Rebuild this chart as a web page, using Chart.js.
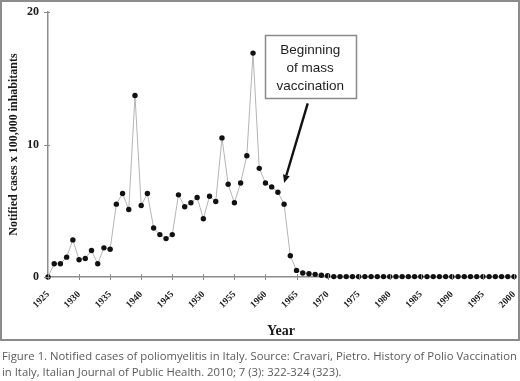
<!DOCTYPE html>
<html>
<head>
<meta charset="utf-8">
<script src="https://cdn.jsdelivr.net/npm/chart.js@4"></script>
<style>
  html, body { margin: 0; padding: 0; background: #fff; }
  body { width: 520px; height: 381px; position: relative; overflow: hidden; }
  #wrap { position: absolute; left: 0; top: 0; width: 520px; height: 341px; }
  #frame { position: absolute; left: 0; top: 0; width: 516px; height: 337px; border: 2px solid #8c8c8c; pointer-events: none; }
  #caption { position: absolute; left: 2px; top: 348px; width: 520px; font-family: "Open Sans", sans-serif; font-size: 11.3px; line-height: 15.5px; color: #5a5a5a; white-space: nowrap; }
</style>
</head>
<body>
<div id="wrap"><canvas id="c" width="520" height="341"></canvas></div>
<div id="frame"></div>
<div id="caption">Figure 1. Notified cases of poliomyelitis in Italy. Source: Cravari, Pietro. History of Polio Vaccination<br>in Italy, Italian Journal of Public Health. 2010; 7 (3): 322-324 (323).</div>
<script>
const years = [];
for (let y = 1925; y <= 2000; y++) years.push(y);
const cases = [
  0.0, 1.0, 1.0, 1.5, 2.8, 1.3, 1.4, 2.0, 1.0, 2.2,   // 1925-1934
  2.1, 5.5, 6.3, 5.1, 13.7, 5.4, 6.3, 3.7, 3.2, 2.9,  // 1935-1944
  3.2, 6.2, 5.3, 5.6, 6.0, 4.4, 6.1, 5.7, 10.5, 7.0,  // 1945-1954
  5.6, 7.1, 9.15, 16.9, 8.2, 7.1, 6.8, 6.4, 5.5, 1.6, // 1955-1964
  0.5, 0.3, 0.25, 0.2, 0.13, 0.1, 0.03, 0.03, 0.03, 0.03, // 1965-1974
  0.03, 0.03, 0.03, 0.03, 0.03, 0.03, 0.03, 0.03, 0.03, 0.03, // 1975-1984
  0.03, 0.03, 0.03, 0.03, 0.03, 0.03, 0.03, 0.03, 0.03, 0.03, // 1985-1994
  0.03, 0.03, 0.03, 0.03, 0.03, 0.03                    // 1995-2000
];
const xTicks = [1925,1930,1935,1940,1945,1950,1955,1960,1965,1970,1975,1980,1985,1990,1995,2000];
const yTicks = [0, 10, 20];
const yTitle = "Notified cases x 100,000 inhabitants";
const xTitle = "Year";
const noteLines = ["Beginning", "of mass", "vaccination"];

const serifBold = { family: "'Liberation Serif', 'Times New Roman', serif", weight: 'bold' };

const crossTicks = {
  id: 'crossTicks',
  afterDraw(chart) {
    const ctx = chart.ctx, xs = chart.scales.x, ys = chart.scales.y;
    const a = chart.chartArea;
    ctx.save();
    ctx.strokeStyle = '#8c8c8c';
    ctx.lineWidth = 1;
    xTicks.forEach(v => {
      const px = Math.round(xs.getPixelForValue(v)) + 0.5;
      ctx.beginPath(); ctx.moveTo(px, a.bottom - 3); ctx.lineTo(px, a.bottom + 3); ctx.stroke();
    });
    yTicks.forEach(v => {
      const py = Math.round(ys.getPixelForValue(v)) + 0.5;
      ctx.beginPath(); ctx.moveTo(a.left - 4, py); ctx.lineTo(a.left + 2, py); ctx.stroke();
    });
    ctx.restore();
  }
};

const note = {
  id: 'note',
  afterDatasetsDraw(chart) {
    const ctx = chart.ctx, xs = chart.scales.x, ys = chart.scales.y;
    const x0 = xs.getPixelForValue(1959.9), x1 = xs.getPixelForValue(1974.5);
    const y0 = ys.getPixelForValue(18.3), y1 = ys.getPixelForValue(13.55);
    ctx.save();
    ctx.fillStyle = '#fff';
    ctx.fillRect(x0, y0, x1 - x0, y1 - y0);
    ctx.strokeStyle = '#8a8a8a';
    ctx.lineWidth = 1.5;
    ctx.strokeRect(Math.round(x0) + 0.5, Math.round(y0) + 0.5, Math.round(x1 - x0), Math.round(y1 - y0));
    ctx.fillStyle = '#1e1e1e';
    ctx.font = "13.5px 'Liberation Sans', Arial, sans-serif";
    ctx.textAlign = 'center';
    ctx.textBaseline = 'middle';
    const cx = (x0 + x1) / 2;
    noteLines.forEach((t, i) => ctx.fillText(t, cx, y0 + 15.5 + i * 18.3));
    // arrow
    const ax0 = xs.getPixelForValue(1966.8), ay0 = ys.getPixelForValue(13.1);
    const ax1 = xs.getPixelForValue(1963.0), ay1 = ys.getPixelForValue(7.1);
    const ang = Math.atan2(ay1 - ay0, ax1 - ax0);
    const hl = 8, hw = 3.5;
    const bx = ax1 - hl * Math.cos(ang), by = ay1 - hl * Math.sin(ang);
    ctx.strokeStyle = '#111';
    ctx.lineWidth = 2.4;
    ctx.beginPath(); ctx.moveTo(ax0, ay0); ctx.lineTo(bx, by); ctx.stroke();
    ctx.fillStyle = '#111';
    ctx.beginPath();
    ctx.moveTo(ax1, ay1);
    ctx.lineTo(bx + hw * Math.sin(ang), by - hw * Math.cos(ang));
    ctx.lineTo(bx - hw * Math.sin(ang), by + hw * Math.cos(ang));
    ctx.closePath(); ctx.fill();
    ctx.restore();
  }
};

new Chart(document.getElementById('c'), {
  type: 'line',
  data: {
    datasets: [{
      data: years.map((y, i) => ({ x: y, y: cases[i] })),
      borderColor: '#b4b4b4',
      borderWidth: 1,
      pointRadius: 2.7,
      pointBackgroundColor: '#111',
      pointBorderColor: '#111',
      pointBorderWidth: 0,
      tension: 0,
      clip: false
    }]
  },
  options: {
    responsive: false,
    animation: false,
    events: [],
    layout: { padding: { top: 12, right: 6, left: 0, bottom: 0 } },
    plugins: { legend: { display: false }, tooltip: { enabled: false } },
    scales: {
      x: {
        type: 'linear', min: 1925, max: 2000,
        afterBuildTicks: s => { s.ticks = xTicks.map(v => ({ value: v })); },
        afterFit: s => { s.height = 64; s.paddingLeft = 0; s.paddingRight = 0; },
        grid: { display: false, drawTicks: false },
        border: { color: '#8c8c8c', width: 1.5 },
        ticks: { autoSkip: false, maxRotation: 45, minRotation: 45, padding: 12, color: '#1a1a1a',
                 font: { ...serifBold, size: 9.5 }, callback: v => String(v) },
        title: { display: true, text: xTitle, color: '#1a1a1a', font: { ...serifBold, size: 14 }, padding: { top: 0, bottom: 1 } }
      },
      y: {
        min: 0, max: 20,
        afterBuildTicks: s => { s.ticks = yTicks.map(v => ({ value: v })); },
        afterFit: s => { s.width = 48; s.paddingTop = 0; s.paddingBottom = 0; },
        grid: { display: false, drawTicks: false },
        border: { color: '#8c8c8c', width: 1.5 },
        ticks: { padding: 9, color: '#1a1a1a', font: { ...serifBold, size: 12 } },
        title: { display: true, text: yTitle, color: '#1a1a1a', font: { ...serifBold, size: 12 }, padding: { top: 7, bottom: 0 } }
      }
    }
  },
  plugins: [crossTicks, note]
});
</script>
</body>
</html>
